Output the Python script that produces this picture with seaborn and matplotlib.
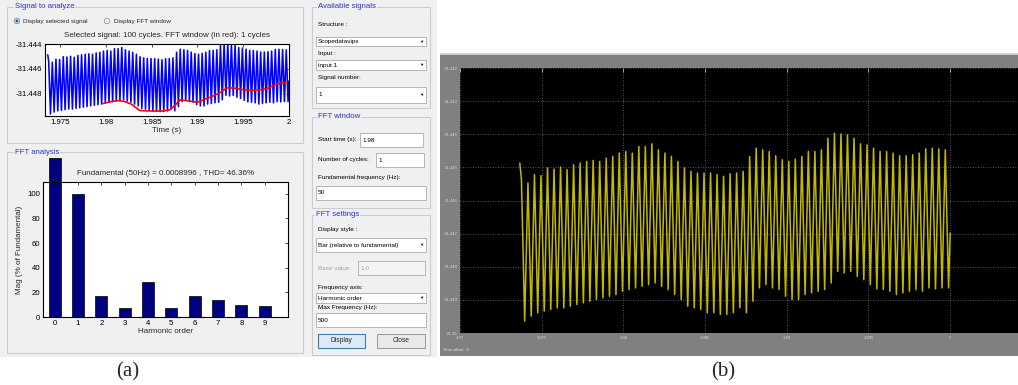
import numpy as np
import pandas as pd
import matplotlib
matplotlib.use('Agg')
import matplotlib.pyplot as plt
from matplotlib.patches import Rectangle, Circle
import seaborn as sns

# harmonic spectrum (% of fundamental); bar 0 runs off the top of the window
harmonic_order = [0, 1, 2, 3, 4, 5, 6, 7, 8, 9]
harmonic_mag = [129, 100, 16.8, 7.6, 28.4, 7.5, 17.3, 13.8, 9.5, 9.2]

# measured signal: start/end level and the max / min of every ripple cycle
t_start, t_end = 1.97366, 2.0
v_start, v_end = -31.44487, -31.44698
peaks = [-31.44537, -31.44547, -31.44522, -31.44525, -31.44502, -31.44505, -31.44499, -31.44507,
         -31.44492, -31.44487, -31.44482, -31.44479, -31.44482, -31.44472, -31.44467, -31.44457,
         -31.44452, -31.44457, -31.44437, -31.44437, -31.44429, -31.44447, -31.44457, -31.44467,
         -31.44482, -31.44502, -31.44512, -31.44517, -31.44517, -31.44517, -31.44522,
         -31.44527, -31.44519, -31.44517, -31.44512, -31.44467, -31.44442, -31.44447, -31.44452,
         -31.44465, -31.44477, -31.44482, -31.44475, -31.44467, -31.44452, -31.44452, -31.44447,
         -31.44412, -31.44397, -31.44399, -31.44402, -31.44412, -31.44429, -31.44432, -31.44442,
         -31.44452, -31.44452, -31.44457, -31.44465, -31.44465, -31.44462, -31.44457, -31.44444,
         -31.44442, -31.44444, -31.44447]
troughs = [-31.44964, -31.44949, -31.44939, -31.44934, -31.44929, -31.44924, -31.44924, -31.44919,
           -31.44914, -31.44909, -31.44904, -31.44899, -31.44894, -31.44889, -31.44884, -31.44874,
           -31.44869, -31.44864, -31.44859, -31.44854, -31.44849, -31.44859, -31.44869, -31.44884,
           -31.44899, -31.44919, -31.44924, -31.44929, -31.44939, -31.44939, -31.44944,
           -31.44944, -31.44939, -31.44924, -31.44939, -31.44904, -31.44864, -31.44854, -31.44864,
           -31.44869, -31.44889, -31.44899, -31.44899, -31.44884, -31.44879, -31.44874, -31.44869,
           -31.44849, -31.44814, -31.44819, -31.44814, -31.44829, -31.44839, -31.44854, -31.44867,
           -31.44869, -31.44874, -31.44884, -31.44879, -31.44874, -31.44869, -31.44874, -31.44864,
           -31.44867, -31.44864, -31.44864]

# FFT window trace (red)
red_t = [1.9797, 1.9805, 1.9813, 1.9820, 1.9828, 1.9837, 1.9850, 1.9862, 1.9870, 1.9876,
         1.9881, 1.9890, 1.9900, 1.9908, 1.9917, 1.9925, 1.9932, 1.9939, 1.9954, 1.9965,
         1.9976, 1.9987, 1.9998]
red_v = [-31.4488, -31.44865, -31.44856, -31.44862, -31.44885, -31.44936, -31.4494, -31.4494,
         -31.4493, -31.4489, -31.4485, -31.44858, -31.4487, -31.44845, -31.4482, -31.4479,
         -31.44754, -31.44754, -31.44773, -31.44772, -31.4476, -31.4472, -31.4471]

bottom_ticks = ['1.975', '1.98', '1.985', '1.99', '1.995', '2']
scope_yticks = ['-31.442', '-31.443', '-31.444', '-31.445', '-31.446', '-31.447', '-31.448', '-31.449', '-31.45']
scope_xticks = ['1.97', '1.975', '1.98', '1.985', '1.99', '1.995', '2']

W, H = 1018, 385
GUI_BG = '#f0f0f0'
FRAME = '#c8cdd4'
TITLE_BLUE = '#2f2fd0'

sns.set_theme(style='white')
plt.rcParams['font.family'] = ['Liberation Sans', 'DejaVu Sans']

fig = plt.figure(figsize=(W / 100, H / 100), dpi=100, facecolor='white')


def px_axes(x0, y0, x1, y1, **kw):
    return fig.add_axes([x0 / W, 1 - y1 / H, (x1 - x0) / W, (y1 - y0) / H], **kw)


# background layer in pixel coordinates for the GUI chrome
bg = px_axes(0, 0, W, H)
bg.set_xlim(0, W)
bg.set_ylim(H, 0)
bg.axis('off')

bg.add_patch(Rectangle((0, 0), 437, 357, fc=GUI_BG, ec='none'))
bg.add_patch(Rectangle((440, 53), W - 440, 303, fc='#808080', ec='none'))
bg.add_patch(Rectangle((440, 53), W - 440, 2, fc='#cfcfcf', ec='none'))


def groupbox(x0, y0, x1, y1, title, tx):
    bg.add_patch(Rectangle((x0, y0), x1 - x0, y1 - y0, fill=False, ec=FRAME, lw=0.8))
    bg.text(tx, y0, title, color=TITLE_BLUE, fontsize=5.6, ha='left', va='center',
            bbox=dict(fc=GUI_BG, ec='none', pad=0.6))


def field(x0, y0, x1, y1, text, arrow=False, enabled=True):
    bg.add_patch(Rectangle((x0, y0), x1 - x0, y1 - y0, fc='white' if enabled else '#f4f4f4',
                           ec='#a8abb2', lw=0.6))
    bg.text(x0 + 2, (y0 + y1) / 2, text, fontsize=4.6, ha='left', va='center',
            color='black' if enabled else '#a0a0a0')
    if arrow:
        bg.text(x1 - 5, (y0 + y1) / 2, '▼', fontsize=3.2, ha='center', va='center', color='black')


def label(x, y, text, enabled=True):
    bg.text(x, y, text, fontsize=4.6, ha='left', va='center', color='black' if enabled else '#a0a0a0')


groupbox(7, 7, 303, 143, 'Signal to analyze', 15)
groupbox(7, 152, 303, 353, 'FFT analysis', 15)
groupbox(312, 7, 430, 108, 'Available signals', 318)
groupbox(312, 117, 430, 208, 'FFT window', 318)
groupbox(312, 215, 430, 355, 'FFT settings', 316)

# radio buttons
bg.add_patch(Circle((17, 21), 2.8, fc='#dfe6ee', ec='#6a7b8c', lw=0.5))
bg.add_patch(Circle((17, 21), 1.4, fc='#1f5fa0', ec='none'))
bg.text(23, 21, 'Display selected signal', fontsize=4.6, va='center')
bg.add_patch(Circle((107, 21), 2.8, fc='#f4f4f4', ec='#8a8a8a', lw=0.5))
bg.text(114, 21, 'Display FFT window', fontsize=4.6, va='center')

# right column controls
label(318, 25, 'Structure :')
field(316, 37, 426, 46, 'Scopedatavips', arrow=True)
label(318, 53, 'Input :')
field(316, 60, 426, 70, 'input 1', arrow=True)
label(318, 77, 'Signal number:')
field(316, 87, 426, 103, '1', arrow=True)
label(318, 140, 'Start time (s):')
field(360, 133, 423, 147, '1.98')
label(318, 160, 'Number of cycles:')
field(376, 153, 424, 167, '1')
label(318, 178, 'Fundamental frequency (Hz):')
field(316, 186, 426, 200, '50')
label(318, 229, 'Display style :')
field(316, 238, 426, 252, 'Bar (relative to fundamental)', arrow=True)
label(318, 268, 'Base value:', enabled=False)
field(358, 261, 425, 275, '1.0', enabled=False)
label(318, 288, 'Frequency axis:')
field(316, 293, 426, 303, 'Harmonic order', arrow=True)
label(318, 308, 'Max Frequency (Hz):')
field(316, 313, 426, 327, '500')
bg.add_patch(Rectangle((318, 334), 47, 14, fc='#dce9f6', ec='#3c7fb1', lw=0.8))
bg.text(341.5, 341, 'Display', fontsize=4.8, ha='center', va='center')
bg.add_patch(Rectangle((377, 334), 48, 14, fc='#e9e9e9', ec='#8a8a8a', lw=0.6))
bg.text(401, 341, 'Close', fontsize=4.8, ha='center', va='center')

bg.text(443, 350, 'Time offset:  0', fontsize=3, color='#e6e6e6', va='center')
bg.text(128, 372, '(a)', fontsize=15, family='Liberation Serif', ha='center', va='center')
bg.text(723, 372, '(b)', fontsize=15, family='Liberation Serif', ha='center', va='center')

# build the ripple trace: start level, max/min of each cycle, end level
n = len(peaks)
period = (t_end - t_start) / n
sig_t = [t_start]
sig_v = [v_start]
for i in range(n):
    sig_t += [t_start + (i + 0.25) * period, t_start + (i + 0.75) * period]
    sig_v += [peaks[i], troughs[i]]
sig_t.append(t_end)
sig_v.append(v_end)
sig = pd.DataFrame({'t': sig_t, 'v': sig_v})
red = pd.DataFrame({'t': red_t, 'v': red_v})


def matlab_axes(ax):
    for s in ax.spines.values():
        s.set_color('black')
        s.set_linewidth(0.8)
        s.set_visible(True)
    ax.tick_params(direction='in', top=True, right=True, length=2.5, width=0.5,
                   labelsize=5.6, pad=2, colors='black')
    ax.set_facecolor('white')


# selected signal
ax_sig = px_axes(45, 44, 289, 116)
sns.lineplot(data=sig, x='t', y='v', sort=False, estimator=None, color='#0000ff', lw=1.15, ax=ax_sig)
sns.lineplot(data=red, x='t', y='v', sort=False, estimator=None, color='#ff0000', lw=1.2, ax=ax_sig)
ax_sig.set_xlim(1.97336, 2.0)
ax_sig.set_ylim(-31.4498, -31.444)
ax_sig.set_xticks([1.975, 1.98, 1.985, 1.99, 1.995, 2.0], bottom_ticks)
ax_sig.set_yticks([-31.448, -31.446, -31.444], ['-31.448', '-31.446', '-31.444'])
matlab_axes(ax_sig)
ax_sig.set_xlabel('Time (s)', fontsize=5.8, labelpad=1)
ax_sig.set_ylabel('')
ax_sig.set_title('Selected signal: 100 cycles. FFT window (in red): 1 cycles', fontsize=5.8, pad=5)

# FFT bar chart
ax_fft = px_axes(43, 182, 288, 317)
sns.barplot(x=harmonic_order, y=harmonic_mag, color='#000080', saturation=1, width=0.52,
            edgecolor='black', linewidth=0.5, ax=ax_fft)
ax_fft.patches[0].set_clip_on(False)
ax_fft.set_xlim(-0.5, 10)
ax_fft.set_ylim(0, 109.5)
ax_fft.set_yticks([0, 20, 40, 60, 80, 100])
matlab_axes(ax_fft)
ax_fft.set_xlabel('Harmonic order', fontsize=5.8, labelpad=1)
ax_fft.set_ylabel('Mag (% of Fundamental)', fontsize=5.8, labelpad=3)
ax_fft.set_title('Fundamental (50Hz) = 0.0008996 , THD= 46.36%', fontsize=5.8, pad=5)

# scope view
ax_sc = px_axes(460, 68, W, 333)
sns.lineplot(data=sig, x='t', y='v', sort=False, estimator=None, color='#c2b800', lw=1.1, ax=ax_sc)
ax_sc.set_facecolor('black')
ax_sc.set_xlim(1.97, 2.00415)
ax_sc.set_ylim(-31.45, -31.442)
ax_sc.set_xticks([1.97, 1.975, 1.98, 1.985, 1.99, 1.995, 2.0], scope_xticks)
ax_sc.set_yticks(np.linspace(-31.442, -31.45, 9), scope_yticks)
ax_sc.grid(True, color='#6e6e6e', ls=(0, (1, 2)), lw=0.6)
for s in ax_sc.spines.values():
    s.set_visible(False)
ax_sc.tick_params(direction='in', length=3, width=0.5, colors='#d8d8d8', labelsize=3, pad=2,
                  top=True, labelcolor='#d8d8d8')
ax_sc.set_xlabel('')
ax_sc.set_ylabel('')

fig.savefig('out.png', dpi=100, facecolor='white')
